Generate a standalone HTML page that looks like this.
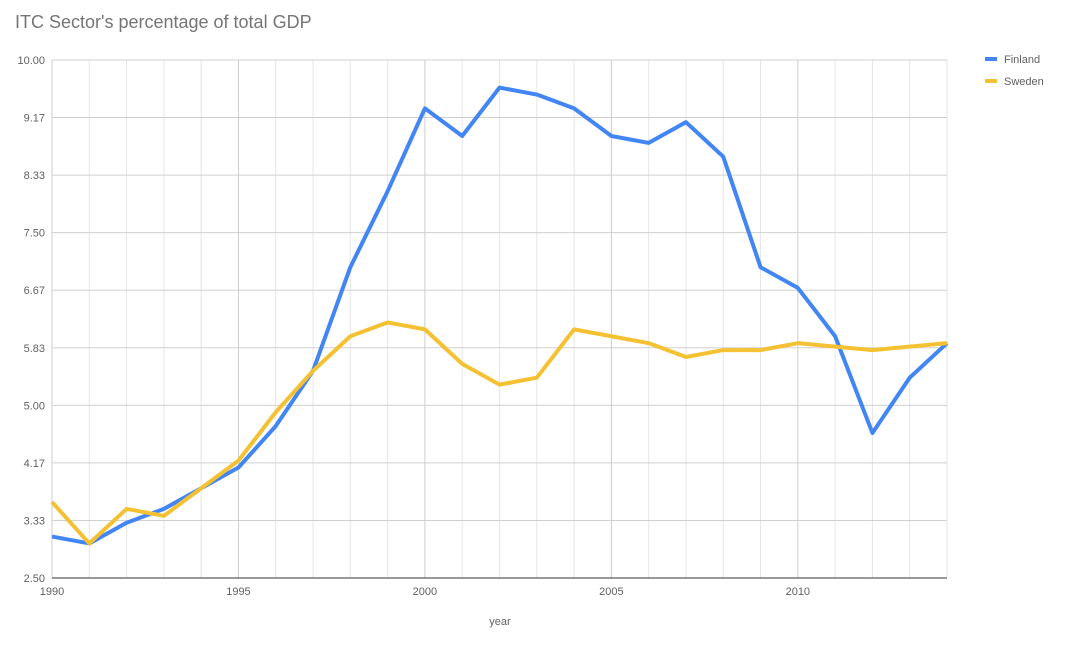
<!DOCTYPE html>
<html><head><meta charset="utf-8"><style>
body{margin:0;background:#fff;}
svg{display:block;font-family:"Liberation Sans",Arial,sans-serif;}
</style></head><body>
<svg width="1078" height="646" viewBox="0 0 1078 646" xmlns="http://www.w3.org/2000/svg">
<rect width="1078" height="646" fill="#fff"/>
<text x="15" y="28" font-size="18" fill="#757575">ITC Sector's percentage of total GDP</text>
<g id="grid" stroke="#e0e0e0" stroke-width="1"></g>
<g id="ylab" font-size="11" fill="#616161" text-anchor="end"></g>
<g id="xlab" font-size="11" fill="#616161" text-anchor="middle"></g>
<text x="500" y="625" font-size="11" fill="#616161" text-anchor="middle">year</text>
<polyline id="fin" fill="none" stroke="#4285f4" stroke-width="4" stroke-linejoin="round"/>
<polyline id="swe" fill="none" stroke="#f4c132" stroke-width="4" stroke-linejoin="round"/>
<rect x="985" y="57" width="12" height="4" fill="#4285f4"/>
<text x="1004" y="63" font-size="11" fill="#616161">Finland</text>
<rect x="985" y="79" width="12" height="4" fill="#f4c132"/>
<text x="1004" y="85" font-size="11" fill="#616161">Sweden</text>
</svg>
<script>
var ns="http://www.w3.org/2000/svg";
function X(i){return 52+i*895/24;}
function Y(v){return 578-(v-2.5)*518/7.5;}
var g=document.getElementById('grid'),yl=document.getElementById('ylab'),xl=document.getElementById('xlab');
function el(t,a,p){var e=document.createElementNS(ns,t);for(var k in a)e.setAttribute(k,a[k]);p.appendChild(e);return e;}
for(var i=0;i<=24;i++){var x=X(i);el('line',{x1:x,x2:x,y1:60,y2:578,stroke:(i%5==0?'#cccccc':'#e6e6e6')},g);
 if(i%5==0){var t=el('text',{x:x,y:595},xl);t.textContent=1990+i;}}
var labs=["2.50","3.33","4.17","5.00","5.83","6.67","7.50","8.33","9.17","10.00"];
for(var j=0;j<10;j++){var y=578-j*518/9;el('line',{x1:52,x2:947,y1:y,y2:y,stroke:j==0?'#333':'#d0d0d0'},g);
 var t=el('text',{x:45,y:y+4},yl);t.textContent=labs[j];}
var fin=[3.1,3.0,3.3,3.5,3.8,4.1,4.7,5.5,7.0,8.1,9.3,8.9,9.6,9.5,9.3,8.9,8.8,9.1,8.6,7.0,6.7,6.0,4.6,5.4,5.9];
var swe=[3.6,3.0,3.5,3.4,3.8,4.2,4.9,5.5,6.0,6.2,6.1,5.6,5.3,5.4,6.1,6.0,5.9,5.7,5.8,5.8,5.9,5.85,5.8,5.85,5.9];
function pts(a){return a.map(function(v,i){return X(i)+','+Y(v);}).join(' ');}
document.getElementById('fin').setAttribute('points',pts(fin));
document.getElementById('swe').setAttribute('points',pts(swe));
</script>
</body></html>
